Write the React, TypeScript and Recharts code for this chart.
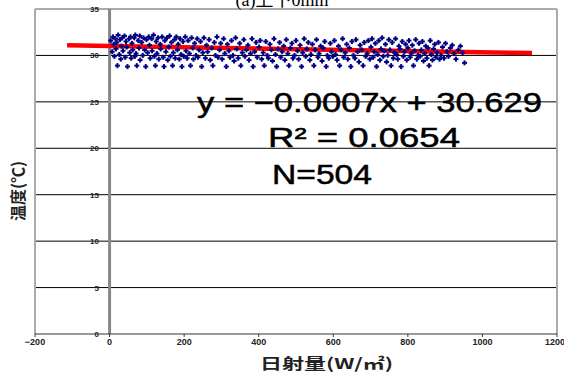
import React from "react"
import { ScatterChart, Scatter, XAxis, YAxis, CartesianGrid, ReferenceLine } from "recharts"

// solar radiation (W/m2) and temperature (°C)
const radiation = [
  3, 7, 9, 11, 13, 16, 17, 19, 21, 23, 26, 28, 30, 32, 34, 36, 40, 42, 44, 46, 48, 52, 54, 56, 58, 60, 62, 66, 68, 69,
  71, 73, 77, 79, 81, 82, 86, 89, 91, 94, 97, 99,
  102, 105, 107, 109, 113, 114, 118, 120, 123, 125, 127, 130, 132, 136, 137, 141, 144, 146, 148, 151, 154, 156, 159, 161,
  163, 166, 169, 171, 174, 176, 179, 182, 184, 187, 189, 192, 194, 197, 199,
  203, 205, 208, 211, 214, 217, 220, 223, 225, 228, 232, 235, 237, 240, 244, 247, 250, 253, 257, 260, 263, 267, 270, 274,
  277, 281, 284, 288, 291, 295, 298,
  302, 306, 309, 313, 316, 320, 323, 327, 331, 334, 338, 341, 345, 349, 352, 356, 360, 363, 367, 371, 374, 378, 382, 385,
  389, 393, 396,
  401, 404, 408, 412, 415, 419, 423, 426, 430, 434, 437, 441, 445, 448, 452, 456, 459, 463, 467, 470, 474, 478, 481, 485,
  489, 492, 496,
  500, 504, 507, 511, 515, 518, 522, 526, 529, 533, 537, 540, 544, 548, 551, 555, 559, 562, 566, 570, 573, 577, 581, 584,
  588, 592, 595, 599,
  603, 606, 610, 614, 617, 621, 625, 628, 632, 636, 639, 643, 647, 650, 654, 658, 661, 665, 669, 672, 676, 680, 683, 687,
  691, 694, 698,
  701, 704, 707, 710, 713, 716, 719, 722, 725, 728, 731, 734, 737, 740, 743, 746, 749, 752, 755, 758, 761, 764, 767, 770,
  773, 776, 779, 782, 785, 788, 791, 794, 797,
  800, 803, 806, 809, 812, 815, 818, 821, 824, 827, 830, 833, 836, 839, 842, 845, 848, 851, 854, 857, 860, 863, 866, 869,
  872, 875, 878, 882, 885, 889, 893, 897, 901, 905, 909, 914, 919, 924, 929, 935, 941, 947, 952,
]
const temperature = [
  31.6, 30.4, 32.0, 31.2, 29.9, 31.8, 30.7, 31.4, 28.9, 32.2, 30.1, 31.7, 29.6, 31.0, 31.9, 30.5, 32.1, 29.8, 31.5, 30.9,
  28.8, 31.8, 30.3, 32.0, 29.7, 31.3, 30.6, 31.9, 29.9, 32.2, 30.2, 28.9, 31.6, 30.8, 32.1, 29.5, 31.4, 30.0, 31.9, 30.6,
  28.8, 31.7,
  30.3, 32.0, 31.1, 29.7, 31.8, 30.5, 32.2, 29.9, 28.9, 31.5, 30.2, 31.9, 29.6, 31.2, 30.7, 32.0, 29.8, 28.8, 31.6, 30.4,
  31.9, 29.5, 30.9, 32.1, 29.9, 31.4, 28.9, 30.3, 31.7, 29.7, 32.0, 30.6, 31.2, 29.6, 31.8, 30.1, 28.8, 31.5, 29.9,
  32.0, 30.5, 29.7, 31.6, 30.2, 28.9, 31.9, 30.8, 29.6, 31.3, 30.0, 31.8, 29.8, 30.6, 31.5, 28.8, 30.3, 31.9, 29.7, 31.1,
  30.4, 31.7, 29.5, 30.8, 28.9, 31.4, 30.0, 32.0, 29.8, 30.6, 31.3,
  29.6, 31.8, 30.2, 28.8, 31.2, 30.5, 29.8, 31.6, 30.0, 29.4, 31.9, 30.7, 29.7, 31.3, 28.9, 30.3, 31.7, 29.9, 30.6, 31.1,
  29.5, 30.2, 31.8, 28.8, 30.4, 31.4, 29.8,
  30.9, 31.6, 29.6, 30.3, 28.9, 31.5, 30.0, 29.7, 31.2, 30.6, 29.4, 31.8, 30.1, 28.8, 30.7, 31.4, 29.8, 30.4, 31.0, 29.5,
  31.7, 30.2, 28.9, 30.8, 31.3, 29.7, 30.0,
  31.6, 30.5, 29.6, 31.1, 28.8, 30.3, 31.8, 29.9, 30.7, 31.4, 29.5, 30.1, 31.2, 28.9, 30.6, 31.7, 29.8, 30.2, 31.0, 29.4,
  30.8, 31.5, 28.8, 30.0, 29.7, 31.3, 30.4, 29.9,
  31.6, 30.1, 29.5, 31.0, 28.9, 30.6, 31.8, 29.8, 30.3, 31.2, 29.6, 30.8, 28.8, 31.5, 30.0, 29.7, 31.7, 30.4, 29.3, 31.1,
  30.6, 28.9, 31.4, 29.9, 30.2, 31.6, 29.6,
  30.9, 31.8, 29.8, 30.4, 31.3, 28.8, 30.1, 31.6, 29.5, 30.7, 31.9, 29.9, 30.5, 31.2, 29.3, 30.0, 31.7, 30.6, 28.9, 31.4,
  29.7, 30.3, 31.8, 30.1, 29.6, 31.0, 30.7, 28.8, 31.5, 29.9, 30.4, 31.2, 29.5,
  30.8, 31.6, 29.8, 30.2, 31.1, 28.9, 30.5, 31.7, 29.6, 30.0, 31.3, 29.9, 30.6, 31.5, 29.4, 30.2, 31.0, 29.7, 30.8, 28.9,
  31.6, 30.1, 29.5, 30.7, 31.2, 29.8, 30.3, 31.4, 29.6, 30.0, 30.9, 29.7, 31.3, 30.4, 29.9, 30.8, 31.1, 30.2, 29.6, 30.6,
  31.0, 30.3, 29.2,
]

const xTicks = [-200, 0, 200, 400, 600, 800, 1000, 1200]
const yTicks = [0, 5, 10, 15, 20, 25, 30, 35]
const gridValues = [5, 10, 15, 20, 25, 30]

// trend line ends as drawn
const trendX = [-114, 1133]
const trendY = [31.1, 30.25]

const equationText = "y = −0.0007x + 30.629"
const rSquaredText = "R² = 0.0654"
const countText = "N=504"
const titleText = "(a)上下0mm"

const points = radiation.map((x, i) => ({ x, y: temperature[i] }))

const Marker = (props: any) => {
  const { cx, cy } = props
  if (cx == null || cy == null) return null
  return (
    <g stroke="#000080" strokeWidth={2}>
      <line x1={cx - 2.5} y1={cy} x2={cx + 2.5} y2={cy} />
      <line x1={cx} y1={cy - 2.5} x2={cx} y2={cy + 2.5} />
    </g>
  )
}

const renderYTick = (props: any) => {
  const { y, payload } = props
  return (
    <text x={99} y={y} dy={3} textAnchor="end" fontSize={8} fontWeight="bold" fill="#222" fontFamily="Liberation Sans">
      {payload.value}
    </text>
  )
}

const fmtX = (v: number) => String(v).replace("-", "−")

const statStyle = { fontSize: 28, fontFamily: "Liberation Sans", fill: "#000", stroke: "#000", strokeWidth: 0.5 }

export default function App() {
  return (
    <div style={{ position: "absolute", left: 0, top: 0, width: 564, height: 372, background: "#fff" }}>
      <ScatterChart width={564} height={372} margin={{ top: 9, right: 7, bottom: 6, left: 34 }}>
        <CartesianGrid horizontal vertical={false} horizontalValues={gridValues} stroke="#000" />
        <XAxis
          type="number"
          dataKey="x"
          domain={[-200, 1200]}
          ticks={xTicks}
          allowDataOverflow
          height={32}
          stroke="#333"
          tickSize={3}
          tickFormatter={fmtX}
          tick={{ fontSize: 9, fontWeight: "bold", fill: "#222", fontFamily: "Liberation Sans" }}
        />
        <YAxis
          type="number"
          dataKey="y"
          domain={[0, 35]}
          ticks={yTicks}
          width={1}
          axisLine={false}
          tickLine={false}
          tick={renderYTick}
        />
        <ReferenceLine x={-200} stroke="#aaa" strokeWidth={2} />
        <ReferenceLine x={1200} stroke="#aaa" strokeWidth={2} />
        <ReferenceLine y={35} stroke="#aaa" strokeWidth={2} />
        <ReferenceLine x={0} stroke="#888" strokeWidth={3} />
        <Scatter data={points} shape={Marker} isAnimationActive={false} />
        <ReferenceLine
          segment={[
            { x: trendX[0], y: trendY[0] },
            { x: trendX[1], y: trendY[1] },
          ]}
          stroke="#ff0000"
          strokeWidth={4.5}
        />
      </ScatterChart>
      <svg width={564} height={372} style={{ position: "absolute", left: 0, top: 0, pointerEvents: "none" }}>
        <text x={282} y={6} textAnchor="middle" fontSize={18} fontFamily="Liberation Serif, Noto Sans CJK JP" fill="#000">
          {titleText}
        </text>
        <text
          x={0}
          y={0}
          transform="translate(24,191) rotate(-90)"
          textAnchor="middle"
          fontSize={16}
          fontWeight="bold"
          fontFamily="Noto Sans CJK JP"
          fill="#222"
        >
          温度(℃)
        </text>
        <text x={260} y={369} fontSize={15} fontWeight="bold" fontFamily="Noto Sans CJK JP" fill="#222" textLength={133} lengthAdjust="spacingAndGlyphs">
          日射量(W/㎡)
        </text>
        <text x={197} y={112} {...statStyle} textLength={345} lengthAdjust="spacingAndGlyphs">
          {equationText}
        </text>
        <text x={268} y={147} {...statStyle} textLength={192} lengthAdjust="spacingAndGlyphs">
          {rSquaredText}
        </text>
        <text x={272} y={184} {...statStyle} textLength={100} lengthAdjust="spacingAndGlyphs">
          {countText}
        </text>
      </svg>
    </div>
  )
}
